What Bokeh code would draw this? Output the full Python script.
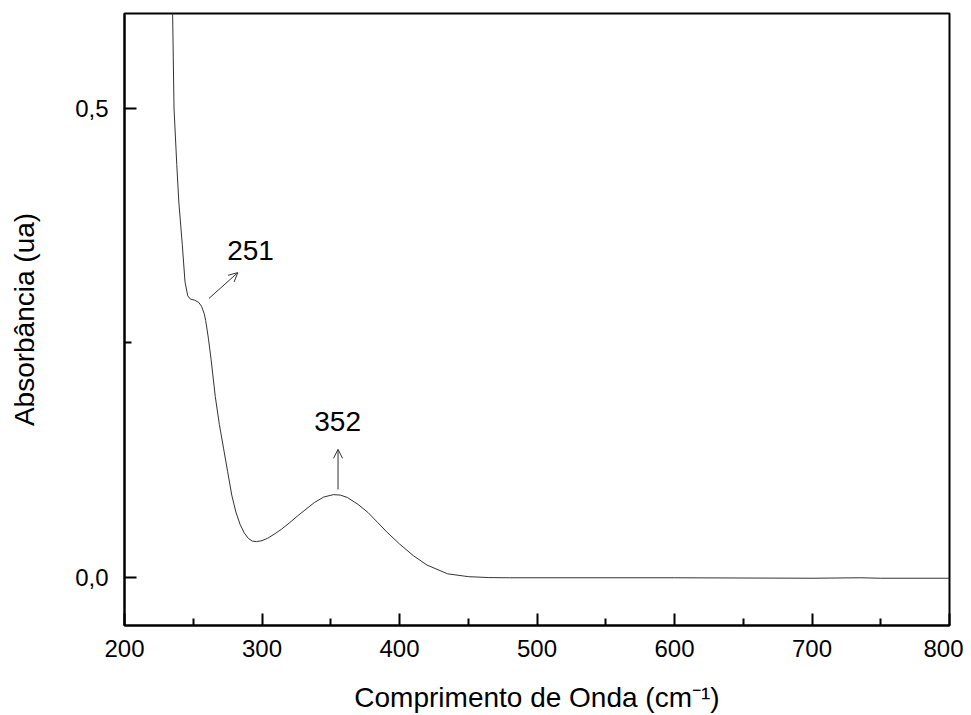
from bokeh.plotting import figure
from bokeh.models import (Range1d, FixedTicker, CustomJSTickFormatter, ColumnDataSource,
                          Arrow, OpenHead)
from bokeh.core.properties import value
from bokeh.embed import file_html
from bokeh.resources import INLINE

# Spectrum data
wavelength = [234, 235, 236, 238, 239.5, 242, 244, 246, 248, 251, 254, 256, 258, 259,
              261, 263, 266, 269, 272, 275, 278, 281, 284, 287, 290, 293, 296, 300,
              304, 309, 314, 320, 326, 332, 338, 345, 352, 357, 362, 370, 377, 384,
              391, 400, 410, 420, 435, 450, 465, 480, 500, 600, 700, 735, 750, 800]
absorbance = [0.66, 0.60, 0.50, 0.44, 0.40, 0.355, 0.315, 0.300, 0.2965, 0.2955, 0.293,
              0.289, 0.281, 0.274, 0.255, 0.232, 0.193, 0.163, 0.138, 0.113, 0.088,
              0.070, 0.057, 0.048, 0.042, 0.039, 0.0385, 0.0395, 0.0420, 0.0465, 0.0515,
              0.0585, 0.066, 0.073, 0.080, 0.086, 0.0885, 0.088, 0.0855, 0.078, 0.0696,
              0.059, 0.0484, 0.036, 0.0236, 0.0135, 0.0042, 0.0012, 0.0002, 0.0, 0.0,
              0.0, -0.0005, 0.0, -0.0005, -0.0005]

# Peak annotations
peak_labels = ["251", "352"]
label_x = [291.7, 355.0]
label_y = [0.3485, 0.1666]
arrow_x0 = [261.4, 355.3]
arrow_y0 = [0.2973, 0.094]
arrow_x1 = [282.4, 355.3]
arrow_y1 = [0.3248, 0.1367]

x_ticks = [200, 300, 400, 500, 600, 700, 800]
x_minor = [250, 350, 450, 550, 650, 750]
y_ticks = [0.0, 0.5]
y_minor = [0.25]

FONT = "Liberation Sans"

p = figure(width=963, height=715, output_backend="svg", toolbar_location=None,
           x_range=Range1d(200, 800), y_range=Range1d(-0.0508, 0.6006),
           min_border_left=124, min_border_right=14, min_border_top=13,
           min_border_bottom=88)

p.line(wavelength, absorbance, line_color="#333333", line_width=1)

src = ColumnDataSource(dict(x=label_x, y=label_y, t=peak_labels))
p.text(x="x", y="y", text="t", source=src, text_align="center", text_baseline="middle",
       text_font=value(FONT), text_font_size="28px", text_color="black")

asrc = ColumnDataSource(dict(x0=arrow_x0, y0=arrow_y0, x1=arrow_x1, y1=arrow_y1))
p.add_layout(Arrow(x_start="x0", y_start="y0", x_end="x1", y_end="y1", source=asrc,
                   line_color="#333333", line_width=1,
                   end=OpenHead(size=9, line_color="#333333", line_width=1)))

p.grid.visible = False
p.outline_line_color = "black"
p.outline_line_width = 2
p.background_fill_color = "white"
p.border_fill_color = "white"

xa = p.xaxis[0]
xa.ticker = FixedTicker(ticks=x_ticks, minor_ticks=x_minor)
xa.axis_label = "Comprimento de Onda (cm\u207b\u00b9)"
ya = p.yaxis[0]
ya.ticker = FixedTicker(ticks=y_ticks, minor_ticks=y_minor)
ya.formatter = CustomJSTickFormatter(code="return tick.toFixed(1).replace('.', ',');")
ya.axis_label = "Absorbância (ua)"

for ax in (xa, ya):
    ax.axis_line_color = "black"
    ax.axis_line_width = 2
    ax.major_tick_in = 12
    ax.major_tick_out = 0
    ax.minor_tick_in = 7
    ax.minor_tick_out = 0
    ax.major_tick_line_width = 2
    ax.minor_tick_line_width = 2
    ax.major_tick_line_color = "black"
    ax.minor_tick_line_color = "black"
    ax.major_label_text_font = FONT
    ax.major_label_text_font_size = "24px"
    ax.major_label_text_color = "black"
    ax.axis_label_text_font = FONT
    ax.axis_label_text_font_size = "28px"
    ax.axis_label_text_font_style = "normal"
    ax.axis_label_text_color = "black"

xa.major_label_standoff = 14
xa.axis_label_standoff = 22
ya.major_label_standoff = 16
ya.axis_label_standoff = 32

open("out.html", "w").write(file_html(p, INLINE))
